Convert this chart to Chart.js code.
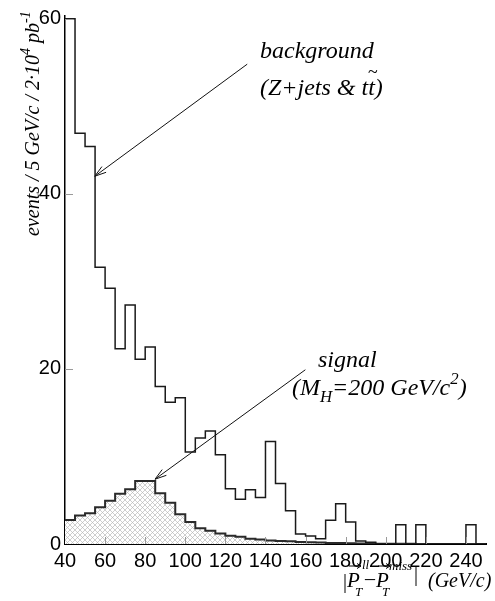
<!DOCTYPE html>
<html><head><meta charset="utf-8">
<script src="https://cdn.jsdelivr.net/npm/chart.js@4.4.1/dist/chart.umd.min.js"></script>
<style>html,body{margin:0;padding:0;background:#fff}#wrap{width:495px;height:601px;position:relative}</style>
</head><body><div id="wrap"><canvas id="c" width="495" height="601"></canvas></div>
<script>
// ---- data ----
const binLeftEdges = [40,45,50,55,60,65,70,75,80,85,90,95,100,105,110,115,120,125,130,135,140,145,150,155,160,165,170,175,180,185,190,195,200,205,210,215,220,225,230,235,240,245];
const binUpperEdge = 250;
const backgroundCounts = [60,46.9,45.4,31.6,29.2,22.3,27.3,21.1,22.5,18.0,16.2,16.7,10.5,12.1,12.9,10.2,6.3,5.1,6.2,5.3,11.7,6.9,3.8,1.15,0.9,0.6,2.7,4.6,2.5,0.35,0.2,0,0,2.2,0,2.2,0,0,0,0,2.2,0];
const signalCounts = [2.75,3.25,3.5,4.2,4.95,5.75,6.25,7.2,7.2,5.8,4.7,3.4,2.5,1.8,1.5,1.2,0.93,0.82,0.6,0.52,0.4,0.35,0.3,0.24,0.2,0.16,0.12,0.1,0.08,0.06,0.05,0.04,0.03,0.02,0.02,0.01,0.01,0,0,0,0,0];
const xTickValues = [40,60,80,100,120,140,160,180,200,220,240];
const yTickValues = [0,20,40,60];

function histPoints(counts){
  const pts = binLeftEdges.map((x,i)=>({x:x, y:counts[i]}));
  pts.push({x:binUpperEdge, y:counts[counts.length-1]});
  return pts;
}

function makeHatch(){
  const s=5, c=document.createElement('canvas'); c.width=s; c.height=s;
  const g=c.getContext('2d');
  g.fillStyle='#fff'; g.fillRect(0,0,s,s);
  g.strokeStyle='#b4b4b4'; g.lineWidth=0.65;
  g.beginPath();
  g.moveTo(-1,-1); g.lineTo(s+1,s+1);
  g.moveTo(-1,s+1); g.lineTo(s+1,-1);
  g.stroke();
  return g.createPattern(c,'repeat');
}

const SERIF = '"Liberation Serif","Times New Roman",serif';

function drawRich(ctx, x, y, pieces, base){
  let cx = x;
  for (const p of pieces){
    const size = base*(p.s||1);
    ctx.font = (p.upright?'':'italic ') + size + 'px ' + SERIF;
    ctx.fillText(p.t, cx, y + (p.dy||0)*base);
    cx += ctx.measureText(p.t).width;
  }
  return cx;
}

function arrow(ctx, x1,y1,x2,y2){
  ctx.beginPath(); ctx.moveTo(x1,y1); ctx.lineTo(x2,y2); ctx.stroke();
  const a = Math.atan2(y1-y2, x1-x2), L=12, w=0.3;
  ctx.beginPath();
  ctx.moveTo(x2+L*Math.cos(a+w), y2+L*Math.sin(a+w));
  ctx.lineTo(x2,y2);
  ctx.lineTo(x2+L*Math.cos(a-w), y2+L*Math.sin(a-w));
  ctx.stroke();
}
function arrow2(ctx, x1, y, x2){
  ctx.beginPath(); ctx.moveTo(x1,y); ctx.lineTo(x2,y);
  ctx.moveTo(x2-4,y-2.5); ctx.lineTo(x2,y); ctx.lineTo(x2-4,y+2.5); ctx.stroke();
}

const annotations = {
  id:'annot',
  afterDatasetsDraw(chart){
    const ctx = chart.ctx, xs = chart.scales.x, ys = chart.scales.y;
    ctx.save();
    // inner tick marks
    ctx.strokeStyle='#9a9a9a'; ctx.lineWidth=1;
    for (const v of yTickValues){ if(v===0) continue;
      const py = Math.round(ys.getPixelForValue(v))+0.5;
      ctx.beginPath(); ctx.moveTo(xs.left, py); ctx.lineTo(xs.left+8, py); ctx.stroke(); }
    for (const v of xTickValues){ if(v===40) continue;
      const px = Math.round(xs.getPixelForValue(v))+0.5;
      ctx.beginPath(); ctx.moveTo(px, ys.bottom); ctx.lineTo(px, ys.bottom-7); ctx.stroke(); }
    // arrows
    ctx.strokeStyle='#111'; ctx.lineWidth=1;
    arrow(ctx, xs.getPixelForValue(130.9), ys.getPixelForValue(54.8), xs.getPixelForValue(54.85), ys.getPixelForValue(42.0));
    arrow(ctx, xs.getPixelForValue(159.9), ys.getPixelForValue(19.9), xs.getPixelForValue(84.9), ys.getPixelForValue(7.4));
    ctx.fillStyle='#000'; ctx.textBaseline='alphabetic'; ctx.textAlign='left';
    // background label
    drawRich(ctx, 260, 58, [{t:'background'}], 24);
    const ex = drawRich(ctx, 260, 95, [{t:'(Z+jets & t'}], 24);
    const ex2 = drawRich(ctx, ex, 95, [{t:'t'}], 24);
    drawRich(ctx, ex-0.5, 78, [{t:'~', s:0.75}], 24);
    drawRich(ctx, ex2, 95, [{t:')'}], 24);
    // signal label
    drawRich(ctx, 318, 367, [{t:'signal'}], 24);
    drawRich(ctx, 292, 395, [{t:'(M'},{t:'H',s:0.7,dy:0.28},{t:'=200 GeV/c'},{t:'2',s:0.7,dy:-0.45},{t:')'}], 24);
    // y axis title (rotated)
    ctx.save();
    ctx.translate(38.5, 236); ctx.rotate(-Math.PI/2);
    drawRich(ctx, 0, 0, [{t:'events / 5 GeV/c / 2\u00b710'},{t:'4',s:0.7,dy:-0.45},{t:' pb'},{t:'-1',s:0.7,dy:-0.45}], 20);
    ctx.restore();
    // x axis title
    ctx.font = '20px '+SERIF; ctx.fillText('|', 343, 588);
    drawRich(ctx, 347, 587, [{t:'P'}], 21);
    drawRich(ctx, 355, 596, [{t:'T'}], 13);
    drawRich(ctx, 362, 569, [{t:'ll'}], 13);
    ctx.font = '20px '+SERIF; ctx.fillText('\u2013', 365, 585);
    drawRich(ctx, 376, 587, [{t:'P'}], 21);
    drawRich(ctx, 382, 596, [{t:'T'}], 13);
    drawRich(ctx, 389, 570, [{t:'miss'}], 13);
    ctx.font = '20px '+SERIF; ctx.fillText('|', 414, 581);
    drawRich(ctx, 428, 587, [{t:'(GeV/c)'}], 20);
    ctx.lineWidth=1; ctx.strokeStyle='#000';
    arrow2(ctx, 349, 566, 361);
    arrow2(ctx, 378, 566, 390);
    ctx.restore();
  }
};

new Chart(document.getElementById('c'), {
  type:'line',
  data:{ datasets:[
    { label:'background', data: histPoints(backgroundCounts), stepped:'before', borderColor:'#1a1a1a', borderWidth:1.5, fill:false, pointRadius:0 },
    { label:'signal', data: histPoints(signalCounts), stepped:'before', borderColor:'#2a2a2a', borderWidth:2, fill:'origin', backgroundColor: makeHatch(), pointRadius:0 }
  ]},
  options:{
    responsive:false, animation:false, devicePixelRatio:1,
    layout:{ padding:{ top:11, right:9, left:0, bottom:0 } },
    plugins:{ legend:{display:false}, tooltip:{enabled:false} },
    scales:{
      x:{ type:'linear', min:40, max:binUpperEdge,
        afterBuildTicks:(s)=>{ s.ticks = xTickValues.map(v=>({value:v})); },
        afterFit:(s)=>{ s.height = 57; },
        grid:{ display:true, drawOnChartArea:false, drawTicks:false },
        border:{ display:true, color:'#000', width:2 },
        ticks:{ autoSkip:false, maxRotation:0, minRotation:0, padding:5, color:'#000', font:{ family:'"Liberation Sans",Arial,sans-serif', size:20 } } },
      y:{ type:'linear', min:0, max:60.3,
        afterBuildTicks:(s)=>{ s.ticks = yTickValues.map(v=>({value:v})); },
        afterFit:(s)=>{ s.width = 65; },
        grid:{ display:true, drawOnChartArea:false, drawTicks:false },
        border:{ display:true, color:'#000', width:1.5 },
        ticks:{ padding:4, color:'#000', font:{ family:'"Liberation Sans",Arial,sans-serif', size:20 } } }
    }
  },
  plugins:[annotations]
});
</script></body></html>
